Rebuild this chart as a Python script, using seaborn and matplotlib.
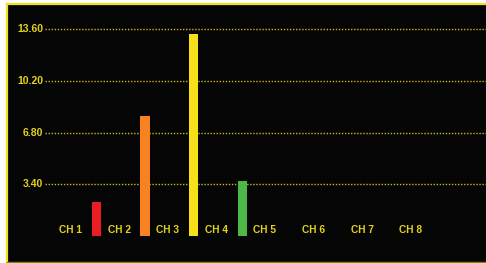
import matplotlib
matplotlib.use("Agg")
import matplotlib.pyplot as plt
import seaborn as sns
import pandas as pd

channels = ["CH 1", "CH 2", "CH 3", "CH 4", "CH 5", "CH 6", "CH 7", "CH 8"]
values = [2.25, 7.9, 13.3, 3.6, 0, 0, 0, 0]
bar_colors = ["#ec1c24", "#f7821f", "#f7e01a", "#4db848", "#4db848", "#4db848", "#4db848", "#4db848"]
yticks = [3.40, 6.80, 10.20, 13.60]
ytick_labels = ["3.40", "6.80", "10.20", "13.60"]

sns.set_theme(style="dark")
plt.rcParams["font.family"] = ["Liberation Sans", "DejaVu Sans"]

txt = "#e2d31a"
fig = plt.figure(figsize=(4.86, 2.63), dpi=100, facecolor="white")
ax = fig.add_axes([7/486, 1/263, 479/486, 258/263])
ax.set_facecolor("#050505")

df = pd.DataFrame({"ch": channels, "v": values})
sns.barplot(data=df, x="ch", y="v", hue="ch", palette=bar_colors, order=channels,
            width=0.195, linewidth=0, legend=False, ax=ax, saturation=1)

ax.set_xlim(-1.84, 8.01)
ax.set_ylim(-1.71, 15.26)

for t, lab in zip(yticks, ytick_labels):
    ax.plot([-1.06, 8.01], [t, t], linestyle=(0, (1, 1.2)), color="#c8b820", lw=1.0, zorder=0)
    ax.text(-1.10, t, lab, ha="right", va="center", color=txt, fontsize=7.5, fontweight="bold")

for i, lab in enumerate(channels):
    ax.text(i - 0.535, 0.42, lab, ha="center", va="center", color=txt, fontsize=7.3, fontweight="bold")

ax.set_xticks([])
ax.set_yticks([])
ax.set_xlabel("")
ax.set_ylabel("")
ax.grid(False)
for s in ["top", "left"]:
    ax.spines[s].set_visible(True)
    ax.spines[s].set_color("#f0e020")
    ax.spines[s].set_linewidth(1.6)
ax.spines["bottom"].set_visible(True)
ax.spines["bottom"].set_color("#8a8010")
ax.spines["bottom"].set_linewidth(1.0)
ax.spines["right"].set_visible(False)

fig.savefig("out.png", dpi=100, facecolor="white")
